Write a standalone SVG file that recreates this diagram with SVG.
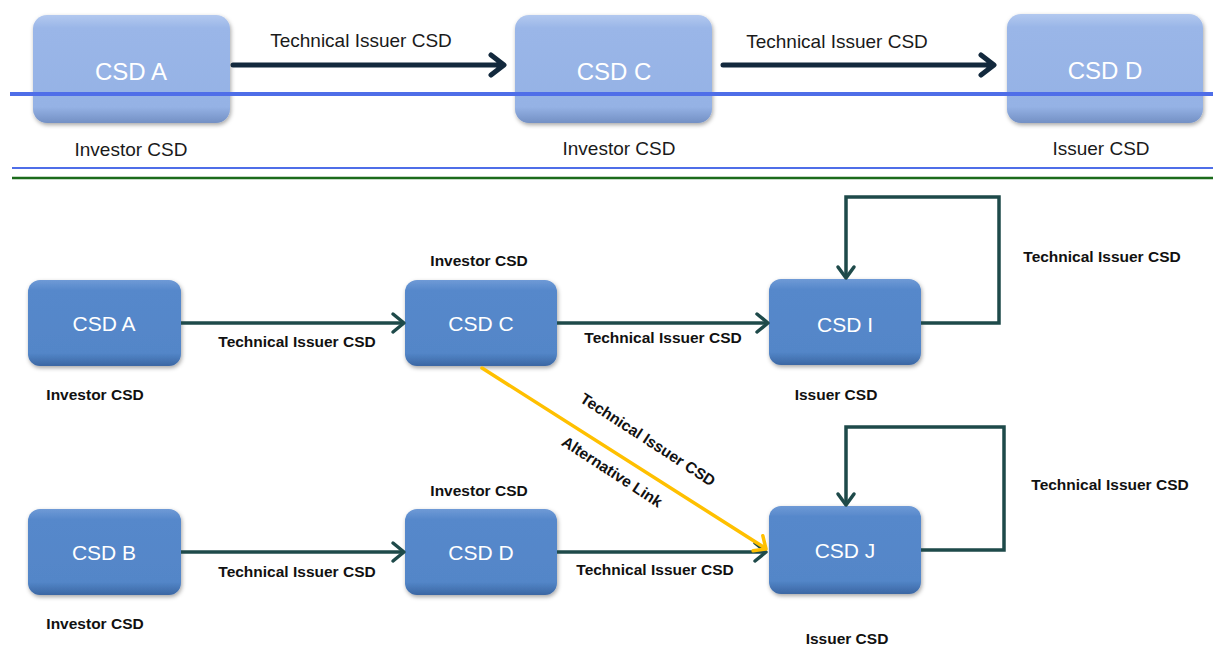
<svg xmlns="http://www.w3.org/2000/svg" width="1213" height="659" viewBox="0 0 1213 659">
<style>
.t{font-family:"Liberation Sans",Arial,sans-serif;}
.lt{font-size:19px;fill:#1a1a1a;}
.bl{font-size:15.5px;font-weight:bold;fill:#111;}
.nt1{font-size:24px;fill:#fff;}
.nt2{font-size:21px;fill:#fff;}
.a1{stroke:#13293d;stroke-width:5;fill:none;stroke-linecap:round;stroke-linejoin:round;}
.a2{stroke:#1e4a4a;stroke-width:3.5;fill:none;stroke-linejoin:miter;}
.h2{stroke:#1e4a4a;stroke-width:3.5;fill:none;stroke-linecap:round;stroke-linejoin:round;}
.ay{stroke:#ffc000;stroke-width:3.5;fill:none;stroke-linecap:round;stroke-linejoin:round;}
</style>
<defs>
<linearGradient id="g1" x1="0" y1="0" x2="0" y2="1">
<stop offset="0" stop-color="#b3c9ef"/><stop offset="0.12" stop-color="#9ab6e8"/><stop offset="0.85" stop-color="#95b2e5"/><stop offset="1" stop-color="#7390c4"/>
</linearGradient>
<linearGradient id="g2" x1="0" y1="0" x2="0" y2="1">
<stop offset="0" stop-color="#6f9ad6"/><stop offset="0.12" stop-color="#5688cb"/><stop offset="0.85" stop-color="#5386c8"/><stop offset="1" stop-color="#3b66a3"/>
</linearGradient>
<filter id="sh" x="-10%" y="-10%" width="125%" height="130%">
<feDropShadow dx="1" dy="2" stdDeviation="2" flood-color="#000" flood-opacity="0.35"/>
</filter>
</defs>
<rect width="1213" height="659" fill="#fff"/>

<g id="top-nodes">
<g id="tA"><rect x="33" y="15" width="197" height="108" rx="14" fill="url(#g1)" filter="url(#sh)"/><text class="t nt1" x="131" y="80" text-anchor="middle">CSD A</text></g>
<g id="tC"><rect x="515" y="15" width="197" height="108" rx="14" fill="url(#g1)" filter="url(#sh)"/><text class="t nt1" x="614" y="80" text-anchor="middle">CSD C</text></g>
<g id="tD"><rect x="1007" y="14" width="196" height="109" rx="14" fill="url(#g1)" filter="url(#sh)"/><text class="t nt1" x="1105" y="79" text-anchor="middle">CSD D</text></g>
</g>

<g id="lines">
<line x1="10" y1="94" x2="1213" y2="94" stroke="#4f6ee8" stroke-width="4"/>
<line x1="12" y1="168" x2="1213" y2="168" stroke="#4f6ee8" stroke-width="2"/>
<line x1="12" y1="178" x2="1213" y2="178" stroke="#1b6b1b" stroke-width="2.5"/>
</g>

<g id="top-labels">
<text class="t lt" x="131" y="156" text-anchor="middle">Investor CSD</text>
<text class="t lt" x="619" y="155" text-anchor="middle">Investor CSD</text>
<text class="t lt" x="1101" y="155" text-anchor="middle">Issuer CSD</text>
</g>

<g id="bottom-nodes">
<g id="bA"><rect x="28" y="280" width="153" height="86" rx="12" fill="url(#g2)" filter="url(#sh)"/><text class="t nt2" x="104" y="331" text-anchor="middle">CSD A</text></g>
<g id="bC"><rect x="405" y="280" width="152" height="86" rx="12" fill="url(#g2)" filter="url(#sh)"/><text class="t nt2" x="481" y="331" text-anchor="middle">CSD C</text></g>
<g id="bI"><rect x="769" y="279" width="152" height="86" rx="12" fill="url(#g2)" filter="url(#sh)"/><text class="t nt2" x="845" y="332" text-anchor="middle" font-size="23">CSD I</text></g>
<g id="bB"><rect x="28" y="509" width="153" height="86" rx="12" fill="url(#g2)" filter="url(#sh)"/><text class="t nt2" x="104" y="560" text-anchor="middle">CSD B</text></g>
<g id="bD"><rect x="405" y="509" width="152" height="86" rx="12" fill="url(#g2)" filter="url(#sh)"/><text class="t nt2" x="481" y="560" text-anchor="middle">CSD D</text></g>
<g id="bJ"><rect x="769" y="506" width="152" height="88" rx="12" fill="url(#g2)" filter="url(#sh)"/><text class="t nt2" x="845" y="558" text-anchor="middle">CSD J</text></g>
</g>

<g id="connectors">
<path class="a1" d="M233,65 H503 M491,55 L504,65 L491,75"/>
<path class="a1" d="M723,65 H993 M981,55 L994,65 L981,75"/>
<path class="a2" d="M181,323 H403"/><path class="h2" d="M393,314 L404,323 L393,332"/>
<path class="a2" d="M557,323 H767"/><path class="h2" d="M757,314 L768,323 L757,332"/>
<path class="a2" d="M921,323 H999 V197 H846 V277"/><path class="h2" d="M838,267 L846,278 L854,267"/>
<path class="a2" d="M181,552 H403"/><path class="h2" d="M393,543 L404,552 L393,561"/>
<path class="a2" d="M557,552 H765"/><path class="h2" d="M755,543 L766,552 L755,561"/>
<path class="a2" d="M921,550 H1004 V427 H846 V504"/><path class="h2" d="M838,494 L846,505 L854,494"/>
<path class="ay" d="M482,368 L765,548"/><path class="ay" d="M762.8,535.7 L766,549 L753.1,550.8"/>
</g>

<g id="connector-labels">
<text class="t lt" x="361" y="47" text-anchor="middle">Technical Issuer CSD</text>
<text class="t lt" x="837" y="48" text-anchor="middle">Technical Issuer CSD</text>
<text class="t bl" x="297" y="347" text-anchor="middle">Technical Issuer CSD</text>
<text class="t bl" x="663" y="343" text-anchor="middle">Technical Issuer CSD</text>
<text class="t bl" x="1102" y="262" text-anchor="middle">Technical Issuer CSD</text>
<text class="t bl" x="297" y="577" text-anchor="middle">Technical Issuer CSD</text>
<text class="t bl" x="655" y="575" text-anchor="middle">Technical Issuer CSD</text>
<text class="t bl" x="1110" y="490" text-anchor="middle">Technical Issuer CSD</text>
<text class="t bl" transform="translate(645,444) rotate(33)" x="0" y="0" text-anchor="middle">Technical Issuer CSD</text>
<text class="t bl" transform="translate(612,472) rotate(33)" x="0" y="5" text-anchor="middle">Alternative Link</text>
</g>

<g id="bottom-labels">
<text class="t bl" x="479" y="266" text-anchor="middle">Investor CSD</text>
<text class="t bl" x="95" y="400" text-anchor="middle">Investor CSD</text>
<text class="t bl" x="479" y="496" text-anchor="middle">Investor CSD</text>
<text class="t bl" x="95" y="629" text-anchor="middle">Investor CSD</text>
<text class="t bl" x="836" y="400" text-anchor="middle">Issuer CSD</text>
<text class="t bl" x="847" y="644" text-anchor="middle">Issuer CSD</text>
</g>
</svg>
